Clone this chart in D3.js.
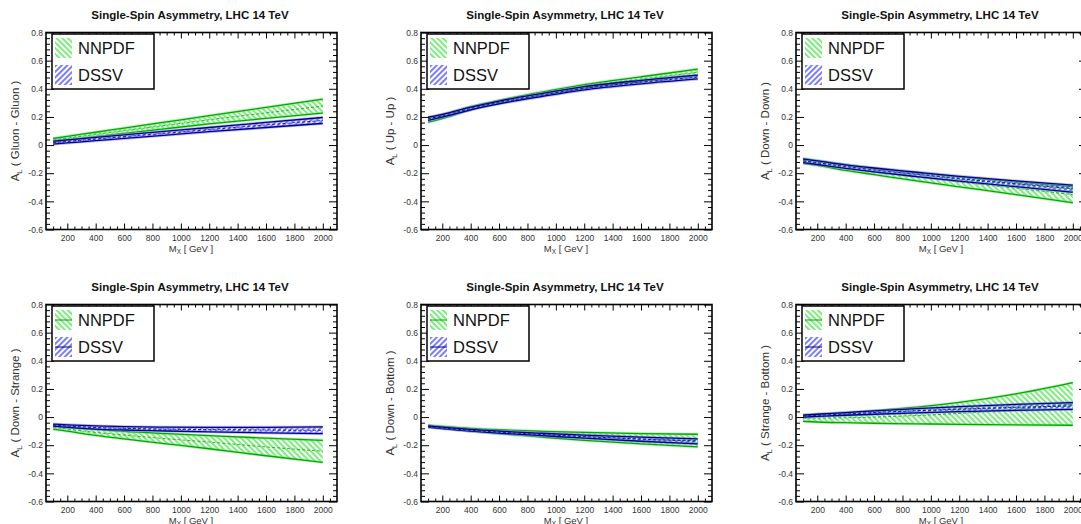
<!DOCTYPE html>
<html>
<head>
<meta charset="utf-8">
<script src="https://cdn.jsdelivr.net/npm/d3@7"></script>
<style>
  body { margin: 0; background: #fff; }
  svg { display: block; font-family: "Liberation Sans", Arial, Helvetica, sans-serif; }
</style>
</head>
<body>
<svg id="chart" width="1081" height="524"></svg>
<script>
// Invariant mass points (GeV)
const massPoints = [100, 200, 400, 600, 900, 1200, 1600, 2000];

// Channels, one per panel
const channels = ["Gluon - Gluon", "Up - Up", "Down - Down", "Down - Strange", "Down - Bottom", "Strange - Bottom"];

// NNPDF band (lower, central, upper), one row per channel
const nnpdfLow = [
    [0.024, 0.036, 0.060, 0.083, 0.117, 0.150, 0.190, 0.228],
    [0.162, 0.188, 0.250, 0.296, 0.352, 0.405, 0.452, 0.495],
    [-0.130, -0.145, -0.180, -0.210, -0.255, -0.297, -0.352, -0.410],
    [-0.085, -0.100, -0.130, -0.155, -0.190, -0.225, -0.275, -0.322],
    [-0.072, -0.082, -0.100, -0.118, -0.142, -0.165, -0.190, -0.212],
    [-0.030, -0.035, -0.040, -0.044, -0.048, -0.052, -0.055, -0.058]
];
const nnpdfCentral = [
    [0.035, 0.049, 0.075, 0.102, 0.141, 0.180, 0.229, 0.277],
    [0.178, 0.200, 0.261, 0.307, 0.364, 0.417, 0.468, 0.517],
    [-0.112, -0.128, -0.160, -0.188, -0.226, -0.262, -0.307, -0.352],
    [-0.072, -0.085, -0.109, -0.128, -0.154, -0.178, -0.212, -0.243],
    [-0.065, -0.074, -0.090, -0.104, -0.121, -0.137, -0.153, -0.167],
    [-0.008, -0.007, -0.005, 0.000, 0.011, 0.026, 0.055, 0.093]
];
const nnpdfHigh = [
    [0.047, 0.062, 0.091, 0.121, 0.165, 0.209, 0.268, 0.326],
    [0.193, 0.215, 0.272, 0.318, 0.377, 0.430, 0.485, 0.540],
    [-0.095, -0.110, -0.140, -0.165, -0.197, -0.226, -0.262, -0.295],
    [-0.060, -0.070, -0.088, -0.102, -0.118, -0.132, -0.150, -0.165],
    [-0.058, -0.066, -0.080, -0.090, -0.101, -0.109, -0.117, -0.122],
    [0.015, 0.020, 0.030, 0.045, 0.070, 0.104, 0.165, 0.245]
];

// DSSV band (lower, central, upper)
const dssvLow = [
    [0.007, 0.015, 0.031, 0.047, 0.071, 0.095, 0.125, 0.154],
    [0.176, 0.198, 0.250, 0.293, 0.345, 0.392, 0.435, 0.470],
    [-0.125, -0.138, -0.165, -0.190, -0.224, -0.256, -0.296, -0.335],
    [-0.065, -0.073, -0.085, -0.092, -0.099, -0.105, -0.112, -0.118],
    [-0.072, -0.082, -0.100, -0.114, -0.132, -0.150, -0.172, -0.190],
    [0.000, 0.005, 0.013, 0.020, 0.030, 0.039, 0.048, 0.055]
];
const dssvCentral = [
    [0.017, 0.026, 0.043, 0.060, 0.085, 0.110, 0.143, 0.175],
    [0.187, 0.208, 0.260, 0.303, 0.355, 0.403, 0.447, 0.483],
    [-0.112, -0.125, -0.152, -0.176, -0.208, -0.239, -0.275, -0.310],
    [-0.057, -0.064, -0.074, -0.080, -0.086, -0.089, -0.092, -0.094],
    [-0.067, -0.077, -0.094, -0.107, -0.124, -0.139, -0.157, -0.172],
    [0.007, 0.012, 0.022, 0.032, 0.045, 0.056, 0.069, 0.079]
];
const dssvHigh = [
    [0.028, 0.037, 0.055, 0.073, 0.099, 0.125, 0.161, 0.196],
    [0.198, 0.218, 0.270, 0.313, 0.366, 0.415, 0.460, 0.497],
    [-0.100, -0.113, -0.140, -0.163, -0.193, -0.222, -0.255, -0.285],
    [-0.050, -0.055, -0.063, -0.068, -0.072, -0.073, -0.073, -0.070],
    [-0.063, -0.072, -0.088, -0.100, -0.115, -0.128, -0.143, -0.155],
    [0.014, 0.020, 0.032, 0.044, 0.060, 0.074, 0.090, 0.103]
];

// Axis ticks
const xMajorTicks = [200, 400, 600, 800, 1000, 1200, 1400, 1600, 1800, 2000];
const yMajorTicks = [-0.6, -0.4, -0.2, 0, 0.2, 0.4, 0.6, 0.8];
const legendLabels = ["NNPDF", "DSSV"];

// Panel placement
const panelX = [0, 375, 750];
const panelY = [0, 272];

const svg = d3.select("#chart");

const x = d3.scaleLinear().domain([50, 2100]).range([46, 337]);
const y = d3.scaleLinear().domain([-0.6, 0.8]).range([229.5, 32.5]);

const xMinorTicks = d3.range(100, 2100, 50).filter(v => v % 200 !== 0);
const yMinorTicks = d3.range(-0.6, 0.8001, 0.04).map(v => +v.toFixed(2))
    .filter(v => Math.abs(Math.round(v * 5) - v * 5) > 1e-6);

// Hatch patterns
const defs = svg.append("defs");
function hatch(id, color, angle) {
    defs.append("pattern")
        .attr("id", id)
        .attr("patternUnits", "userSpaceOnUse")
        .attr("width", 4)
        .attr("height", 4)
        .attr("patternTransform", `rotate(${angle})`)
        .append("line")
        .attr("x1", 1).attr("y1", 0)
        .attr("x2", 1).attr("y2", 4)
        .attr("stroke", color)
        .attr("stroke-width", 1.1);
}
hatch("hatchGreen", "#10e010", -45);
hatch("hatchBlue", "#1010ff", 45);

defs.append("clipPath").attr("id", "plotClip")
    .append("rect")
    .attr("x", x.range()[0]).attr("y", y.range()[1])
    .attr("width", x.range()[1] - x.range()[0])
    .attr("height", y.range()[0] - y.range()[1]);

const series = [
    { low: nnpdfLow, mid: nnpdfCentral, high: nnpdfHigh, fill: "url(#hatchGreen)", edge: "#00a800", halo: "#8ee88e" },
    { low: dssvLow, mid: dssvCentral, high: dssvHigh, fill: "url(#hatchBlue)", edge: "#00008c", halo: "#8f8fe8" }
];

const area = d3.area().x(d => x(d.m)).y0(d => y(d.lo)).y1(d => y(d.hi)).curve(d3.curveMonotoneX);
const lineLo = d3.line().x(d => x(d.m)).y(d => y(d.lo)).curve(d3.curveMonotoneX);
const lineHi = d3.line().x(d => x(d.m)).y(d => y(d.hi)).curve(d3.curveMonotoneX);
const lineMid = d3.line().x(d => x(d.m)).y(d => y(d.mid)).curve(d3.curveMonotoneX);

channels.forEach((channel, i) => {
    const g = svg.append("g")
        .attr("transform", `translate(${panelX[i % 3]},${panelY[Math.floor(i / 3)]})`);

    // Title
    g.append("text")
        .attr("x", 190).attr("y", 19)
        .attr("text-anchor", "middle")
        .attr("font-size", 11.5)
        .attr("font-weight", "bold")
        .attr("fill", "#111")
        .text("Single-Spin Asymmetry, LHC 14 TeV");

    // Bands
    const plot = g.append("g").attr("clip-path", "url(#plotClip)");
    series.forEach(s => {
        const pts = massPoints.map((m, k) => ({ m: m, lo: s.low[i][k], mid: s.mid[i][k], hi: s.high[i][k] }));
        plot.append("path").datum(pts).attr("d", area).attr("fill", s.fill);
        [lineLo, lineHi].forEach(gen => {
            plot.append("path").datum(pts).attr("d", gen)
                .attr("fill", "none").attr("stroke", s.halo).attr("stroke-width", 3).attr("opacity", 0.6);
            plot.append("path").datum(pts).attr("d", gen)
                .attr("fill", "none").attr("stroke", s.edge).attr("stroke-width", 1.3);
        });
        plot.append("path").datum(pts).attr("d", lineMid)
            .attr("fill", "none").attr("stroke", s.edge).attr("stroke-width", 0.8)
            .attr("stroke-dasharray", "3,2");
    });

    // Axes with inward ticks
    const yFmt = d => d === 0 ? "0" : d.toFixed(1);
    const left = g.append("g").attr("transform", `translate(${x.range()[0]},0)`);
    left.call(d3.axisLeft(y).tickValues(yMajorTicks).tickSize(-8).tickPadding(3).tickFormat(yFmt));
    left.append("g").call(d3.axisLeft(y).tickValues(yMinorTicks).tickSize(-4).tickFormat(""));

    const right = g.append("g").attr("transform", `translate(${x.range()[1]},0)`);
    right.call(d3.axisRight(y).tickValues(yMajorTicks).tickSize(-8).tickFormat(""));
    right.append("g").call(d3.axisRight(y).tickValues(yMinorTicks).tickSize(-4).tickFormat(""));

    const bottom = g.append("g").attr("transform", `translate(0,${y.range()[0]})`);
    bottom.call(d3.axisBottom(x).tickValues(xMajorTicks).tickSize(-6).tickPadding(4).tickFormat(d3.format("d")));
    bottom.append("g").call(d3.axisBottom(x).tickValues(xMinorTicks).tickSize(-3).tickFormat(""));

    const top = g.append("g").attr("transform", `translate(0,${y.range()[1]})`);
    top.call(d3.axisTop(x).tickValues(xMajorTicks).tickSize(-6).tickFormat(""));
    top.append("g").call(d3.axisTop(x).tickValues(xMinorTicks).tickSize(-3).tickFormat(""));

    g.selectAll(".domain").remove();
    g.selectAll(".tick line").attr("stroke", "#000").attr("stroke-width", 1);
    g.selectAll(".tick text").attr("font-size", 8.5).attr("fill", "#333")
        .attr("font-family", "'Liberation Sans', Arial, sans-serif");
    bottom.selectAll(".tick text").attr("dy", "0.9em");

    // Frame
    g.append("rect")
        .attr("x", x.range()[0]).attr("y", y.range()[1])
        .attr("width", x.range()[1] - x.range()[0])
        .attr("height", y.range()[0] - y.range()[1])
        .attr("fill", "none").attr("stroke", "#000").attr("stroke-width", 1.6);

    // Axis titles
    const xt = g.append("text")
        .attr("x", 191).attr("y", 252)
        .attr("text-anchor", "middle")
        .attr("font-size", 9.5).attr("fill", "#333");
    xt.append("tspan").text("M");
    xt.append("tspan").attr("font-size", 6.5).attr("dy", 2).text("X");
    xt.append("tspan").attr("dy", -2).text(" [ GeV ]");

    const yt = g.append("text")
        .attr("transform", `translate(19,131) rotate(-90)`)
        .attr("text-anchor", "middle")
        .attr("font-size", 11.5).attr("fill", "#333");
    yt.append("tspan").text("A");
    yt.append("tspan").attr("font-size", 7.5).attr("dy", 3).text("L");
    yt.append("tspan").attr("dy", -3).text(` ( ${channel} )`);

    // Legend
    const lg = g.append("g").attr("transform", "translate(52,34)");
    lg.append("rect").attr("width", 102).attr("height", 55)
        .attr("fill", "#fff").attr("stroke", "#000").attr("stroke-width", 1.5);
    legendLabels.forEach((label, k) => {
        const s = series[k];
        const row = lg.append("g").attr("transform", `translate(3,${4 + k * 27})`);
        row.append("rect").attr("width", 17).attr("height", 20).attr("fill", s.fill);
        if (i >= 3) {
            row.append("line").attr("x1", 0).attr("x2", 17).attr("y1", 10).attr("y2", 10)
                .attr("stroke", s.edge).attr("stroke-width", 1);
        }
        row.append("text").attr("x", 23).attr("y", 16)
            .attr("font-size", 16.5).attr("fill", "#111").text(label);
    });
});
</script>
</body>
</html>
